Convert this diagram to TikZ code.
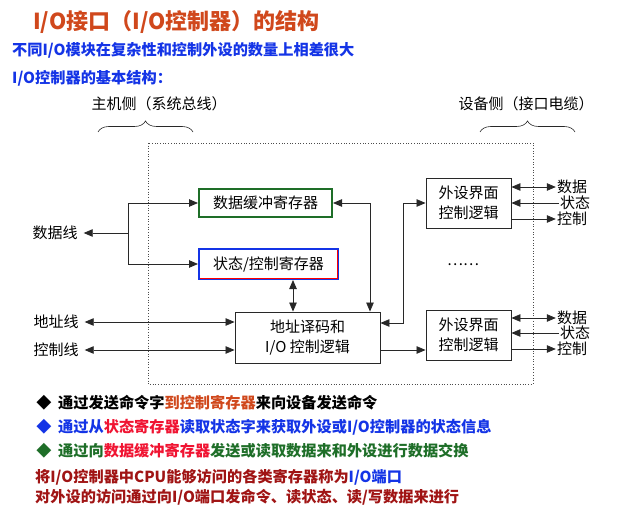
\documentclass[tikz,border=0pt]{standalone}
\usepackage{fontspec}
\setmainfont{Noto Sans CJK SC}
\usetikzlibrary{arrows.meta,decorations.pathreplacing}
\definecolor{titlered}{RGB}{208,72,28}
\definecolor{headblue}{RGB}{20,52,230}
\definecolor{boxgreen}{RGB}{30,110,40}
\definecolor{hotred}{RGB}{240,20,50}
\definecolor{darkred}{RGB}{160,20,20}
\definecolor{linegray}{RGB}{40,40,40}
\newcommand\diagfont{\fontsize{15}{19.5}\selectfont}
\newcommand\notefont{\bfseries\fontsize{15.2}{17}\selectfont}
\tikzset{
  wire/.style={draw=linegray, line width=0.8pt},
  tip/.style={-{Triangle[length=9pt,width=7.5pt]}},
  tips/.style={{Triangle[length=9pt,width=7.5pt]}-{Triangle[length=9pt,width=7.5pt]}},
  unit/.style={draw=linegray, line width=0.9pt, fill=white, font=\diagfont, align=center, inner sep=0pt},
  lbl/.style={font=\diagfont, inner sep=1pt},
  note/.style={anchor=west, inner sep=0pt, font=\notefont},
}
\begin{document}
\begin{tikzpicture}[x=1pt,y=-1pt]
  \useasboundingbox (0,0) rectangle (637,513);
  % headings
  \node[anchor=west, inner sep=0pt, text=titlered, font=\bfseries\fontsize{22}{24}\selectfont] (title) at (33,22) {I/O接口（I/O控制器）的结构};
  \node[note, text=headblue, font=\bfseries\fontsize{15.2}{17}\selectfont] (sub) at (12,50) {不同I/O模块在复杂性和控制外设的数量上相差很大};
  \node[note, text=headblue, font=\bfseries\fontsize{15.2}{17}\selectfont] (basic) at (12,78) {I/O控制器的基本结构：};
  % host side / device side
  \node[lbl] (host) at (159,104) {主机侧（系统总线）};
  \node[lbl] (dev) at (526,104) {设备侧（接口电缆）};
  \draw[wire, line width=0.6pt, decorate, decoration={brace, amplitude=11pt}] (98,132) -- (193,132);
  \draw[wire, line width=0.6pt, decorate, decoration={brace, amplitude=11pt}] (480,132) -- (575,132);
  % controller frame
  \draw[dotted, black!70, line width=0.7pt] (148,143) rectangle (533,384);
  % registers and logic
  \node[unit, draw=boxgreen, line width=2pt, minimum width=133, minimum height=28] (buf) at (265.5,203) {数据缓冲寄存器};
  \node[unit, draw=headblue, line width=2pt, minimum width=139, minimum height=30] (stat) at (268.5,264) {状态/控制寄存器};
  \draw[red, line width=0.8pt] ([xshift=-1.6pt,yshift=-1.6pt]stat.north east) |- ([xshift=1.6pt,yshift=1.6pt]stat.south west);
  \node[unit, minimum width=145, minimum height=51] (dec) at (307.5,337.5) {地址译码和\\I/O 控制逻辑};
  \node[unit, minimum width=85, minimum height=50] (pe1) at (468.5,203) {外设界面\\控制逻辑};
  \node[unit, minimum width=85, minimum height=50] (pe2) at (468.5,335) {外设界面\\控制逻辑};
  \node[lbl] (dots) at (463,265) {……};
  % bus lines
  \node[lbl] (dat) at (55,233) {数据线};
  \node[lbl] (adr) at (56,322) {地址线};
  \node[lbl] (ctl) at (56,350) {控制线};
  \coordinate (fork) at (128,233);
  \draw[wire, tip, shorten >=5pt] (fork) -- (dat.east);
  \draw[wire, tip] (fork) |- (buf.west);
  \draw[wire, tip] (fork) |- (stat.west);
  \draw[wire, tips, shorten <=5pt] (adr.east) -- (adr.east -| dec.west);
  \draw[wire, tips, shorten <=5pt] (ctl.east) -- (ctl.east -| dec.west);
  % inner connections
  \coordinate (sx) at ([xshift=24.5pt]stat.south);
  \draw[wire, tips] (sx) -- (sx |- dec.north);
  \coordinate (bx) at (370,203);
  \draw[wire, tips] (buf.east) -- (bx) -- (bx |- dec.north);
  \coordinate (j1) at (403,323);
  \draw[wire, tips] (pe1.west) -| (j1) -- (j1 -| dec.east);
  \draw[wire, tip] (ctl -| dec.east) -- (ctl -| pe2.west);
  % device side lines
  \node[lbl] (d1) at (572,187) {数据};
  \node[lbl] (s1) at (575,203) {状态};
  \node[lbl] (c1) at (572,219) {控制};
  \node[lbl] (d2) at (572,318) {数据};
  \node[lbl] (s2) at (575,333) {状态};
  \node[lbl] (c2) at (572,349) {控制};
  \foreach \p/\d/\s/\c in {pe1/d1/s1/c1, pe2/d2/s2/c2} {
    \draw[wire, tips] (\d -| \p.east) -- (\d.west);
    \draw[wire, tip] (\s.west) -- (\s -| \p.east);
    \draw[wire, tip] (\c -| \p.east) -- (\c.west);
  }
  % notes
  \node[inner sep=0pt, font=\notefont] (b1) at (44,403) {◆};
  \node[note] (t1) at (58,403) {通过发送命令字\textcolor{titlered}{到控制寄存器}来向设备发送命令};
  \node[inner sep=0pt, font=\notefont, text=headblue] (b2) at (44,427) {◆};
  \node[note, text=headblue] (t2) at (58,427) {通过从\textcolor{hotred}{状态寄存器}读取状态字来获取外设或I/O控制器的状态信息};
  \node[inner sep=0pt, font=\notefont, text=boxgreen] (b3) at (44,451) {◆};
  \node[note, text=boxgreen] (t3) at (58,451) {通过向\textcolor{hotred}{数据缓冲寄存器}发送或读取数据来和外设进行数据交换};
  \node[note, text=darkred] (t4) at (35,477) {将I/O控制器中CPU能够访问的各类寄存器称为\textcolor{headblue}{I/O端口}};
  \node[note, text=darkred] (t5) at (35,497) {对外设的访问通过向I/O端口发命令、读状态、读/写数据来进行};
\end{tikzpicture}
\end{document}
